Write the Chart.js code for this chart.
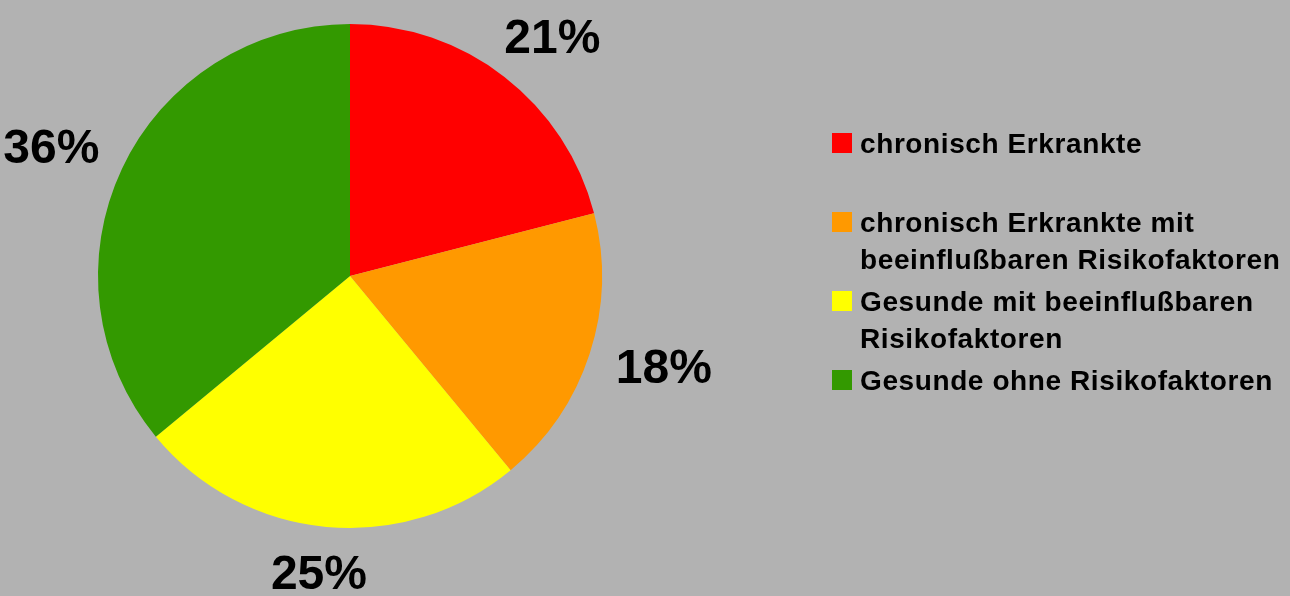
<!DOCTYPE html>
<html>
<head>
<meta charset="utf-8">
<script src="https://cdn.jsdelivr.net/npm/chart.js@4/dist/chart.umd.min.js"></script>
<style>
html,body{margin:0;padding:0;background:#b2b2b2;overflow:hidden;}
#c{display:block;}
</style>
</head>
<body>
<canvas id="c" width="1290" height="596"></canvas>
<script>
const categories = [
  ["chronisch Erkrankte", ""],
  ["chronisch Erkrankte mit", "beeinflußbaren Risikofaktoren"],
  ["Gesunde mit beeinflußbaren", "Risikofaktoren"],
  ["Gesunde ohne Risikofaktoren"]
];
const values = [21, 18, 25, 36];
const colors = ["#ff0000", "#ff9900", "#ffff00", "#339900"];
const BG = "#b2b2b2";

const bgPlugin = {
  id: 'bg',
  beforeDraw(chart) {
    const ctx = chart.ctx;
    ctx.save();
    ctx.fillStyle = BG;
    ctx.fillRect(0, 0, chart.width, chart.height);
    ctx.restore();
  }
};

const labelPlugin = {
  id: 'labels',
  afterDraw(chart) {
    const ctx = chart.ctx;
    const meta = chart.getDatasetMeta(0);
    const total = values.reduce((a, b) => a + b, 0);
    ctx.save();
    ctx.font = "bold 48px 'Liberation Sans', Arial, sans-serif";
    ctx.fillStyle = "#000";
    ctx.textAlign = "center";
    ctx.textBaseline = "middle";
    meta.data.forEach((arc, i) => {
      const p = arc.getProps(['x', 'y', 'startAngle', 'endAngle', 'outerRadius'], true);
      const mid = (p.startAngle + p.endAngle) / 2;
      const txt = Math.round(values[i] / total * 100) + "%";
      const w = ctx.measureText(txt).width / 2;
      const h = 18;
      const gap = 30;
      const rx = p.outerRadius + gap + w;
      const ry = p.outerRadius + gap + h;
      ctx.fillText(txt, p.x + Math.cos(mid) * rx, p.y + Math.sin(mid) * ry + 1);
    });

    // legend
    ctx.font = "bold 28px 'Liberation Sans', Arial, sans-serif";
    if ('letterSpacing' in ctx) ctx.letterSpacing = "0.6px";
    ctx.textAlign = "left";
    ctx.textBaseline = "alphabetic";
    let y = 153;
    categories.forEach((lines, i) => {
      ctx.fillStyle = colors[i];
      ctx.fillRect(832, y - 20, 20, 20);
      ctx.fillStyle = "#000";
      lines.forEach((ln, j) => {
        ctx.fillText(ln, 860, y + j * 36.7);
      });
      y += (lines.length - 1) * 36.7 + 42.3;
    });
    ctx.restore();
  }
};

new Chart(document.getElementById('c'), {
  type: 'pie',
  data: {
    labels: categories.map(l => l.filter(Boolean).join(' ')),
    datasets: [{
      data: values,
      backgroundColor: colors,
      borderWidth: 0
    }]
  },
  options: {
    responsive: false,
    animation: false,
    layout: { padding: { left: 98, right: 688, top: 24, bottom: 68 } },
    plugins: {
      legend: { display: false },
      tooltip: { enabled: false }
    }
  },
  plugins: [bgPlugin, labelPlugin]
});
</script>
</body>
</html>
